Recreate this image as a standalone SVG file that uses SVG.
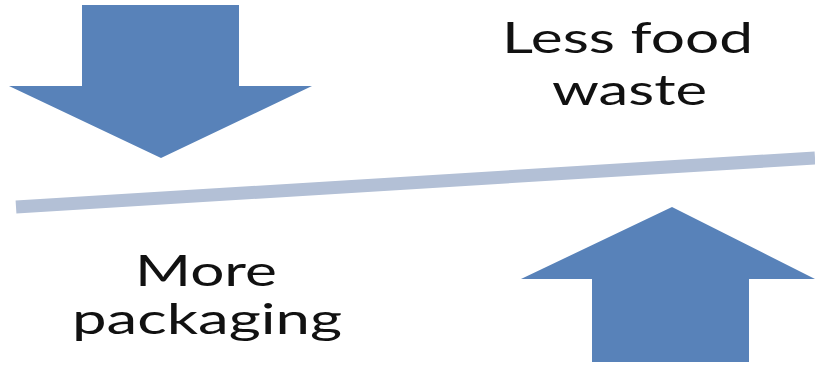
<svg xmlns="http://www.w3.org/2000/svg" width="815" height="365" viewBox="0 0 815 365">
<style>
.arrow{fill:#5882b9}
.bar{stroke:#b3c0d6;stroke-width:13;fill:none}
.lbl{font-family:Lato,"Liberation Sans",sans-serif;font-size:42px;fill:#111;text-anchor:middle}
</style>
<rect width="815" height="365" fill="#fff"/>
<g id="connectors">
<line class="bar" x1="16" y1="207" x2="815" y2="158"/>
</g>
<g id="down-arrow">
<polygon class="arrow" points="82,5 239,5 239,86 312,86 161,158 9,86 82,86"/>
</g>
<g id="up-arrow">
<polygon class="arrow" points="672,207 815,279 749,279 749,362 592,362 592,279 521,279"/>
</g>
<g id="less-food-waste">
<text class="lbl" x="627.5" y="53" textLength="251" lengthAdjust="spacingAndGlyphs">Less food</text>
<text class="lbl" x="629.5" y="105" textLength="155" lengthAdjust="spacingAndGlyphs">waste</text>
</g>
<g id="more-packaging">
<text class="lbl" x="206" y="286" textLength="142" lengthAdjust="spacingAndGlyphs">More</text>
<text class="lbl" x="207" y="334" textLength="270" lengthAdjust="spacingAndGlyphs">packaging</text>
</g>
</svg>
